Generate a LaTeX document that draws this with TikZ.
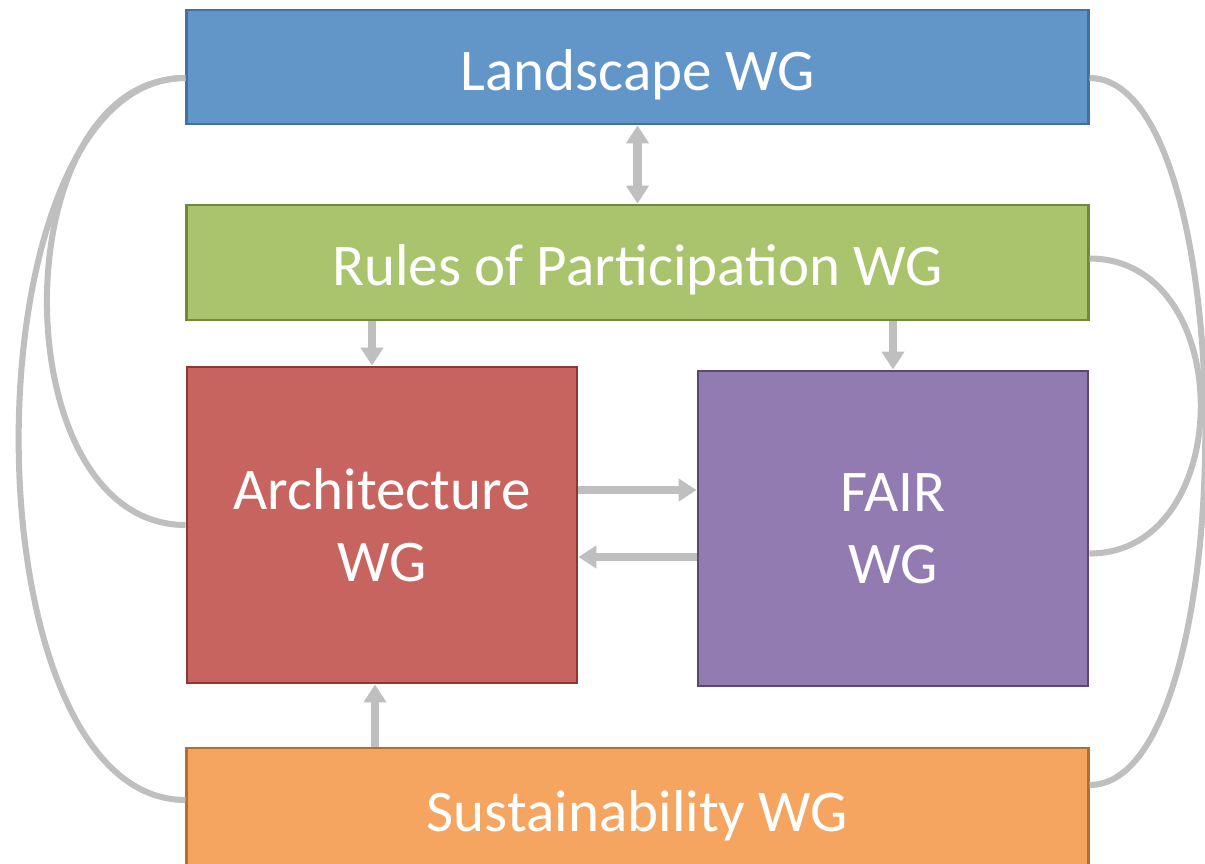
\documentclass[tikz,border=0pt]{standalone}
\usepackage{fontspec}
\setmainfont{Carlito}
\usetikzlibrary{arrows.meta}
\usetikzlibrary{calc}
\usetikzlibrary{positioning}

\definecolor{landfill}{RGB}{98,150,200}
\definecolor{landline}{RGB}{65,113,156}
\definecolor{rulesfill}{RGB}{170,196,110}
\definecolor{rulesline}{RGB}{113,137,63}
\definecolor{archfill}{RGB}{200,100,95}
\definecolor{archline}{RGB}{140,56,54}
\definecolor{fairfill}{RGB}{145,123,176}
\definecolor{fairline}{RGB}{92,71,118}
\definecolor{sustfill}{RGB}{245,165,95}
\definecolor{sustline}{RGB}{182,109,49}
\definecolor{linkgray}{RGB}{191,191,191}

\begin{document}
\begin{tikzpicture}[x=0.025cm, y=-0.025cm,
    wg/.style={draw, line width=2pt, text=white, inner sep=0pt, align=center,
        font=\fontsize{42}{51}\selectfont, execute at begin node={\rule{0pt}{40pt}}},
    tie/.style={draw=linkgray, line width=4.3pt},
    feed/.style={draw=linkgray, line width=5.7pt, -{Triangle[width=0.55cm, length=0.45cm]}}]
        \useasboundingbox (0,0) rectangle (1205,863);

        % Working group boxes
        \node[wg, fill=landfill, draw=landline, minimum width=22.525cm, minimum height=2.85cm] (land) at (637.5,67) {Landscape WG};
        \node[wg, fill=rulesfill, draw=rulesline, minimum width=22.525cm, minimum height=2.875cm] (rules) at (637.5,262.5) {Rules of Participation WG};
        \node[wg, fill=archfill, draw=archline, minimum width=9.75cm, minimum height=7.9cm] (arch) at (382,525) {Architecture\\WG};
        \node[wg, fill=fairfill, draw=fairline, minimum width=9.75cm, minimum height=7.875cm] (fair) at (893,528.5) {FAIR\\WG};
        \node[wg, fill=sustfill, draw=sustline, minimum width=22.525cm, minimum height=3cm] (sust) at (637.5,808) {Sustainability WG};

        % Arrows between the boxes
        \draw[feed, {Triangle[width=0.55cm, length=0.45cm]}-{Triangle[width=0.55cm, length=0.45cm]}] (land) -- (rules);
        \coordinate (archtop) at ($(arch.north)+(-10,0)$);
        \draw[feed] (rules.south -| archtop) -- (archtop);
        \draw[feed] (rules.south -| fair.north) -- (fair.north);
        \coordinate (archright) at ($(arch.east)+(0,-35)$);
        \draw[feed] (archright) -- (archright -| fair.west);
        \coordinate (fairleft) at ($(fair.west)+(0,28.5)$);
        \draw[feed] (fairleft) -- (fairleft -| arch.east);
        \coordinate (archbot) at ($(arch.south)+(-7,0)$);
        \draw[feed] (sust.north -| archbot) -- (archbot);

        % Curved links on the left
        \draw[tie] ($(land.west)+(0,11)$) to[out=180, in=180, looseness=1.06] (arch.west);
        \draw[tie] ($(land.west)+(0,11)$) to[out=180, in=180, looseness=0.79] ($(sust.west)+(0,-8)$);

        % Curved links on the right
        \draw[tie] ($(land.east)+(0,11)$) to[out=0, in=0, looseness=0.56] ($(sust.east)+(0,-23)$);
        \draw[tie] ($(rules.east)+(0,-4)$) to[out=0, in=0, looseness=1.29] ($(fair.east)+(0,25)$);
\end{tikzpicture}
\end{document}
